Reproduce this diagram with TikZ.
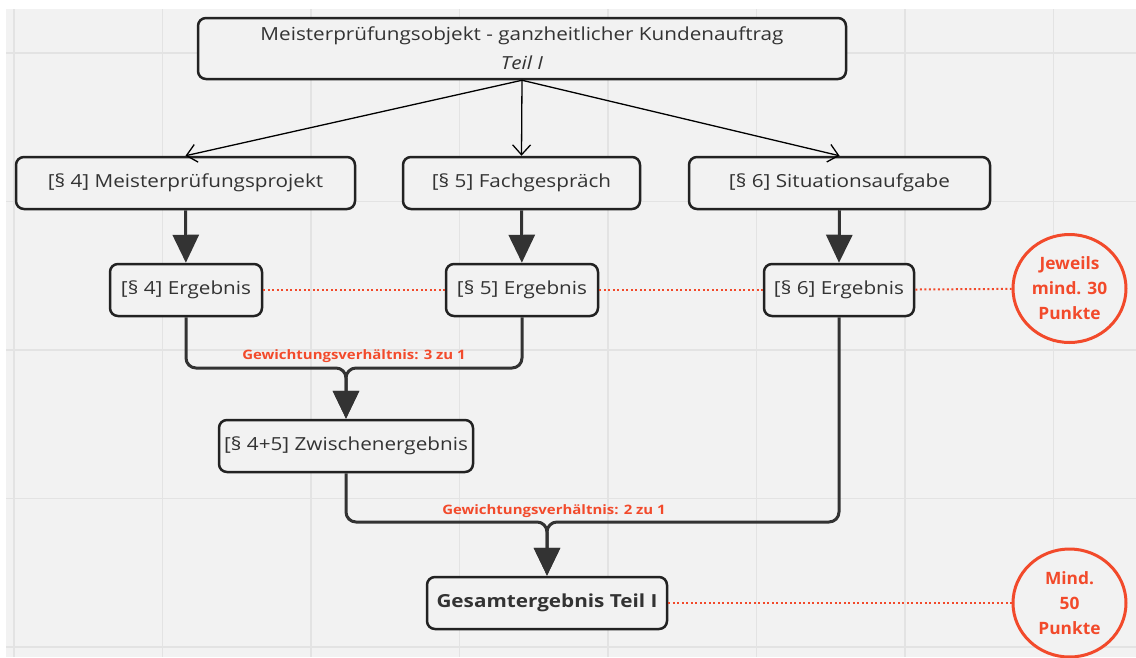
\documentclass[tikz,border=0pt]{standalone}
\usepackage{fontspec}
\setmainfont{Open Sans}[FakeStretch=1.15]
\newfontfamily\ringfont{Open Sans}[FakeStretch=1.02]
\usetikzlibrary{arrows.meta,shapes.geometric}

\definecolor{paper}{HTML}{F2F2F2}
\definecolor{gridline}{HTML}{E3E3E3}
\definecolor{ink}{HTML}{333333}
\definecolor{boxline}{HTML}{222222}
\definecolor{mired}{HTML}{F24A2B}

\tikzset{
  box/.style={draw=boxline, line width=2.5pt, rounded corners=8pt, fill=paper,
    text=ink, inner sep=0pt, minimum height=52pt, align=center,
    font=\fontsize{18}{28}\selectfont},
  thinarrow/.style={draw=black, line width=1.3pt, -{Straight Barb[length=10pt,width=18pt]}},
  flow/.style={draw=ink, line width=3pt, rounded corners=10pt,
    -{Triangle[length=28pt,width=26pt]}},
  dotline/.style={draw=mired, line width=2pt, dash pattern=on 2pt off 2.5pt},
  ring/.style={ellipse, draw=mired, line width=3pt, fill=paper, text=mired,
    inner sep=0pt, minimum width=113pt, minimum height=108pt, align=center,
    font=\ringfont\bfseries\fontsize{17}{25}\selectfont},
  weight/.style={text=mired, inner sep=0pt, font=\bfseries\fontsize{13}{15}\selectfont}
}

\begin{document}
\begin{tikzpicture}[x=1pt,y=-1pt]
    \useasboundingbox (0,0) rectangle (1136,657);
    \fill[white] (0,0) rectangle (1136,657);
    \fill[paper] (6,9) rectangle (1136,657);
    \foreach \x in {14,162.5,311,459.5,608,756.5,905,1053.5}
        \draw[gridline, line width=1.5pt] (\x,9) -- (\x,657);
    \foreach \y in {53,201.5,350,498.5,647}
        \draw[gridline, line width=1.5pt] (6,\y) -- (1136,\y);

    \node[box, minimum width=648pt, minimum height=61pt, font=\fontsize{18}{29}\selectfont] (objekt) at (522,48.5)
        {Meisterprüfungsobjekt - ganzheitlicher Kundenauftrag\\\textit{Teil I}};

    \node[box, minimum width=339pt] (projekt) at (185.5,183) {[§ 4] Meisterprüfungsprojekt};
    \node[box, minimum width=237pt] (gespraech) at (521.5,183) {[§ 5] Fachgespräch};
    \node[box, minimum width=301pt] (situation) at (839.5,183) {[§ 6] Situationsaufgabe};

    \node[box, minimum width=152pt] (erg4) at (186,290) {[§ 4] Ergebnis};
    \node[box, minimum width=152pt] (erg5) at (522,290) {[§ 5] Ergebnis};
    \node[box, minimum width=150pt] (erg6) at (839,290) {[§ 6] Ergebnis};
    \node[ring] (punkte30) at (1069.5,288.5) {Jeweils\\mind. 30\\Punkte};

    \node[box, minimum width=254pt] (zwischen) at (346,446) {[§ 4+5] Zwischenergebnis};
    \node[box, minimum width=240pt, font=\bfseries\fontsize{18}{28}\selectfont] (gesamt) at (547,603)
        {Gesamtergebnis Teil I};
    \node[ring] (punkte50) at (1069.5,603) {Mind.\\50\\Punkte};

    \coordinate (merge45) at (346,368);
    \coordinate (merge6) at (547,522);
    \node[weight] (gew31) at (354,356) {Gewichtungsverhältnis: 3 zu 1};
    \node[weight] (gew21) at (554,511) {Gewichtungsverhältnis: 2 zu 1};

    \draw[thinarrow] (objekt.south) -- (projekt.north);
    \draw[thinarrow] (objekt.south) -- (gespraech.north);
    \draw[thinarrow] (objekt.south) -- (situation.north);

    \draw[flow] (projekt) -- (erg4);
    \draw[flow] (gespraech) -- (erg5);
    \draw[flow] (situation.south) -- (erg6.north);

    \draw[dotline] (erg4) -- (erg5);
    \draw[dotline] (erg5) -- (erg6);
    \draw[dotline] (erg6) -- (punkte30);
    \draw[dotline] (gesamt) -- (punkte50);

    \draw[flow] (erg4.south) |- (merge45) -- (zwischen.north);
    \draw[flow] (erg5.south) |- (merge45) -- (zwischen.north);
    \draw[flow] (zwischen.south) |- (merge6) -- (gesamt.north);
    \draw[flow] (erg6.south) |- (merge6) -- (gesamt.north);
\end{tikzpicture}
\end{document}
